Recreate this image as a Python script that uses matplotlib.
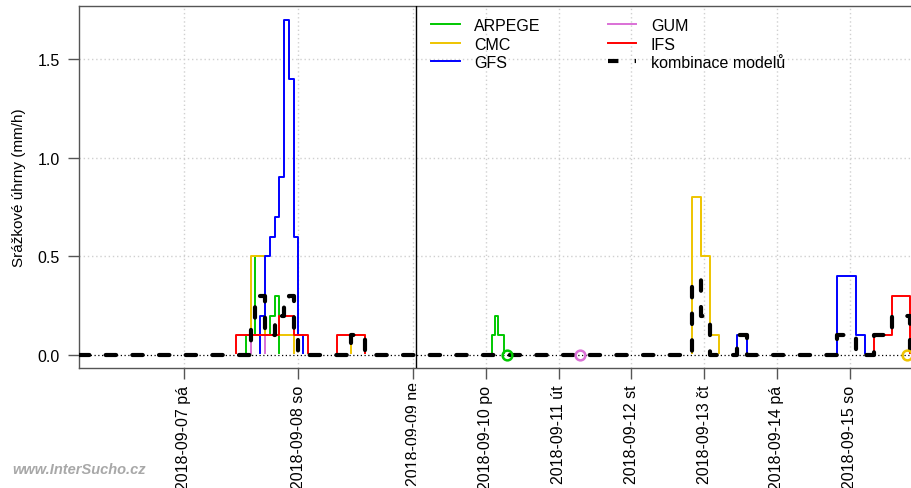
import numpy as np
import matplotlib
matplotlib.use('Agg')
import matplotlib.pyplot as plt
from matplotlib.lines import Line2D
from matplotlib.transforms import Bbox, TransformedBbox, blended_transform_factory

plt.rcParams['font.family'] = ['Liberation Sans', 'DejaVu Sans']

# hours since 2018-09-07 00:00, values in mm/h (step: value holds until next hour)
arpege_h = [-22, 13, 15, 17, 18, 19, 20, 74, 75, 76, 78, 79]
arpege_v = [0, 0.1, 0.5, 0.1, 0.2, 0.3, 0, 0.1, 0.2, 0.1, 0, 0]

cmc_h = [-22, 14, 17, 23, 35, 38, 140, 143, 146, 149, 211]
cmc_v = [0, 0.5, 0.1, 0, 0.1, 0, 0.8, 0.5, 0.1, 0, 0]

gfs_h = [-22, 16, 17, 18, 19, 20, 21, 22, 23, 24, 25, 155, 158, 188, 194, 197, 215]
gfs_v = [0, 0.2, 0.5, 0.6, 0.7, 0.9, 1.7, 1.4, 0.6, 0.1, 0, 0.1, 0, 0.4, 0.1, 0, 0]

gum_h = [-22, 14, 17, 103]
gum_v = [0, 0.1, 0, 0]

ifs_h = [-22, 11, 20, 23, 26, 32, 38, 200, 206, 212, 215]
ifs_v = [0, 0.1, 0.2, 0.1, 0, 0.1, 0, 0.1, 0.3, 0, 0]

komb_h = [-22, 14, 15, 17, 19, 21, 22, 23, 24, 35, 38, 140, 143, 146, 155, 158, 188, 194, 200, 206, 212, 215]
komb_v = [0, 0.15, 0.3, 0.1, 0.2, 0.27, 0.3, 0.1, 0, 0.1, 0, 0.38, 0.2, 0, 0.1, 0, 0.1, 0, 0.1, 0.2, 0, 0]

day_hours = [0, 24, 48, 72, 96, 120, 144, 168, 192]
day_labels = ['2018-09-07 pá', '2018-09-08 so', '2018-09-09 ne', '2018-09-10 po',
              '2018-09-11 út', '2018-09-12 st', '2018-09-13 čt', '2018-09-14 pá',
              '2018-09-15 so']

models = [('ARPEGE', arpege_h, arpege_v, '#00C800'),
          ('CMC', cmc_h, cmc_v, '#EEC400'),
          ('GFS', gfs_h, gfs_v, '#0000FF'),
          ('GUM', gum_h, gum_v, '#DA70D6'),
          ('IFS', ifs_h, ifs_v, '#FF0000')]

# hourly part up to 09-09, coarser after
def fwd(h):
    h = np.asarray(h, dtype=float)
    return np.where(h <= 48, h * 4.783, 48 * 4.783 + (h - 48) * 3.0306)

def inv(p):
    p = np.asarray(p, dtype=float)
    b = 48 * 4.783
    return np.where(p <= b, p / 4.783, 48 + (p - b) / 3.0306)

fig = plt.figure(figsize=(9.11, 4.89), dpi=100)
ax = fig.add_axes([79 / 911, 120 / 489, (915 - 79) / 911, 362 / 489])
ax.set_xscale('function', functions=(fwd, inv))
ax.set_xlim(-21.9, 213.6)
ax.set_ylim(-0.066, 1.769)

ax.set_yticks([0, 0.5, 1.0, 1.5])
ax.set_yticklabels(['0.0', '0.5', '1.0', '1.5'])
ax.set_xticks(day_hours)
# 09-09 label is drawn separately below (cut at the panel break)
ax.set_xticklabels([l if i != 2 else '' for i, l in enumerate(day_labels)], rotation=90)
ax.tick_params(axis='both', labelsize=11.5, length=8, color='#555555', width=1)
ax.tick_params(axis='y', pad=6)
ax.tick_params(axis='x', pad=4)
ax.minorticks_off()

for s in ax.spines.values():
    s.set_color('#555555')
    s.set_linewidth(1)

ax.grid(True, color='#d0d0d0', linestyle=(0, (1, 2)), linewidth=1)
ax.set_axisbelow(True)

for name, hh, vv, col in models:
    ax.plot(hh, vv, drawstyle='steps-post', color=col, lw=1.4, label=name, zorder=2)

ax.axhline(0, color='white', lw=2.2, zorder=2.5)
ax.plot(komb_h, komb_v, drawstyle='steps-post', color='black', lw=3,
        linestyle=(0, (2.5, 3.9)), dash_capstyle='round', zorder=3)
ax.axhline(0, color='black', lw=0.9, linestyle=(0, (1, 2)), zorder=4)
ax.axvline(49, color='black', lw=1, zorder=4)

# end-of-forecast markers
for hh, vv, col in [(arpege_h, arpege_v, '#00C800'), (gum_h, gum_v, '#DA70D6'),
                    (cmc_h, cmc_v, '#EEC400')]:
    ax.plot([hh[-1]], [vv[-1]], 'o', ms=7, mfc='none', mec=col, mew=1.8,
            zorder=5, clip_on=False)

ax.set_ylabel('Srážkové úhrny (mm/h)', fontsize=11, labelpad=8)

handles = [Line2D([], [], color=c, lw=1.4) for _, _, _, c in models]
handles.insert(3, Line2D([], [], color='black', lw=3, linestyle=(0, (2.5, 3.9))))
labels = ['ARPEGE', 'CMC', 'GFS', 'kombinace modelů', 'GUM', 'IFS']
order = [0, 1, 2, 4, 5, 3]
leg = fig.legend([handles[i] for i in order], [labels[i] for i in order],
                 loc='upper left', bbox_to_anchor=(431 / 911, 1 - 19 / 489),
                 ncol=2, frameon=False, fontsize=11.5, handlelength=1.8,
                 handletextpad=0.9, columnspacing=4.2, labelspacing=0.22,
                 borderpad=0, borderaxespad=0)

# the 09-09 label, clipped at the panel break
trans = blended_transform_factory(ax.transData, fig.transFigure)
t = fig.text(48, 1 - 382 / 489, day_labels[2], transform=trans, rotation=90,
             ha='center', va='top', fontsize=11.5)
t.set_clip_box(TransformedBbox(Bbox([[0, 0], [416 / 911, 1]]), fig.transFigure))
t.set_clip_on(True)

fig.text(12 / 911, 1 - 470 / 489, 'www.InterSucho.cz', fontsize=10.5,
         fontweight='bold', fontstyle='italic', color='#a8a8a8', va='center')

fig.savefig('out.png', dpi=100)
